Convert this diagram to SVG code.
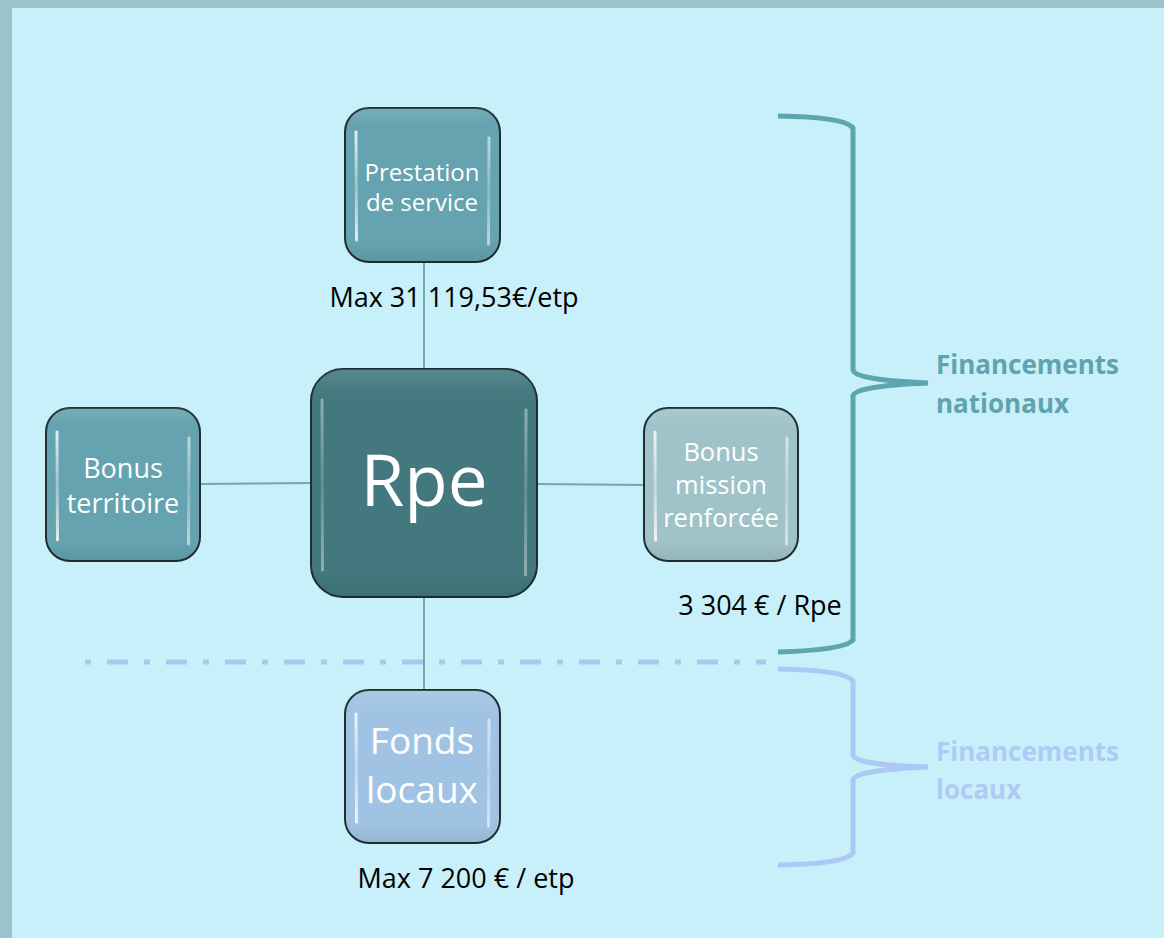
<svg xmlns="http://www.w3.org/2000/svg" width="1164" height="938" viewBox="0 0 1164 938">
<defs>
<style>
.node{stroke:#1f2e30;stroke-width:2}
.nt{font-family:"Open Sans","Liberation Sans",sans-serif;fill:#ffffff;text-anchor:middle}
.lbl{font-family:"Open Sans","Liberation Sans",sans-serif;fill:#000000;font-size:27px;text-anchor:middle}
.conn{stroke:#6fa8b1;stroke-width:2;fill:none}
.gl{stroke:url(#glg);stroke-width:3;stroke-linecap:round;fill:none}
.br{fill:none;stroke-width:5;stroke-linecap:butt}
.bt{font-family:"Open Sans","Liberation Sans",sans-serif;font-weight:bold;font-size:26px}
</style>
<linearGradient id="shade" x1="0" y1="0" x2="0" y2="1">
<stop offset="0" stop-color="#ffffff" stop-opacity="0.12"/>
<stop offset="0.12" stop-color="#ffffff" stop-opacity="0"/>
<stop offset="0.88" stop-color="#000000" stop-opacity="0"/>
<stop offset="1" stop-color="#000000" stop-opacity="0.08"/>
</linearGradient>
<linearGradient id="glg" gradientUnits="objectBoundingBox" x1="0" y1="0" x2="0" y2="1">
<stop offset="0" stop-color="#ffffff" stop-opacity="0.8"/>
<stop offset="0.5" stop-color="#ffffff" stop-opacity="0.35"/>
<stop offset="1" stop-color="#ffffff" stop-opacity="0.8"/>
</linearGradient>
</defs>
<rect x="0" y="0" width="1164" height="938" fill="#9ac3cb"/>
<rect x="12" y="8" width="1152" height="930" fill="#c8f0fa"/>

<g id="connectors">
<line class="conn" x1="424" y1="262" x2="424" y2="369"/>
<line class="conn" x1="424" y1="597" x2="424" y2="690"/>
<line class="conn" x1="200" y1="484" x2="311" y2="483"/>
<line class="conn" x1="537" y1="484" x2="644" y2="485"/>
</g>

<g id="divider">
<line x1="85" y1="662" x2="766" y2="662" stroke="#a9c8ee" stroke-width="5" stroke-dasharray="6 16 21 16"/>
</g>

<g id="node-prestation">
<rect class="node" x="345" y="108" width="155" height="154" rx="24" fill="#64a3af"/>
<rect x="345" y="108" width="155" height="154" rx="24" fill="url(#shade)"/>
<path class="gl" d="M356 132 L356.5 240"/>
<path class="gl" d="M489 138 L488.5 244" opacity="0.7"/>
<text class="nt" font-size="24" x="422" y="181">Prestation</text>
<text class="nt" font-size="24" x="422" y="211">de service</text>
</g>

<g id="node-rpe">
<rect class="node" x="311" y="369" width="226" height="228" rx="32" fill="#42787e"/>
<rect x="311" y="369" width="226" height="228" rx="32" fill="url(#shade)"/>
<path class="gl" d="M322 400 L322.5 570" opacity="0.5"/>
<path class="gl" d="M526 410 L525.5 575" opacity="0.5"/>
<text class="nt" font-size="71" x="424" y="506">Rpe</text>
</g>

<g id="node-bonus-territoire">
<rect class="node" x="46" y="408" width="154" height="153" rx="24" fill="#64a3af"/>
<rect x="46" y="408" width="154" height="153" rx="24" fill="url(#shade)"/>
<path class="gl" d="M57 432 L57.5 540"/>
<path class="gl" d="M189 438 L188.5 544" opacity="0.7"/>
<text class="nt" font-size="27" x="123" y="478">Bonus</text>
<text class="nt" font-size="27" x="123" y="513">territoire</text>
</g>

<g id="node-bonus-mission">
<rect class="node" x="644" y="408" width="154" height="153" rx="24" fill="#a0c3c9"/>
<rect x="644" y="408" width="154" height="153" rx="24" fill="url(#shade)"/>
<path class="gl" d="M655 432 L655.5 540"/>
<path class="gl" d="M787 438 L786.5 544" opacity="0.7"/>
<text class="nt" font-size="25.5" x="721" y="461">Bonus</text>
<text class="nt" font-size="25.5" x="721" y="494">mission</text>
<text class="nt" font-size="25.5" x="721" y="527">renforcée</text>
</g>

<g id="node-fonds-locaux">
<rect class="node" x="345" y="690" width="155" height="153" rx="24" fill="#a1c3e3"/>
<rect x="345" y="690" width="155" height="153" rx="24" fill="url(#shade)"/>
<path class="gl" d="M356 714 L356.5 822"/>
<path class="gl" d="M489 720 L488.5 826" opacity="0.7"/>
<text class="nt" font-size="37" x="422" y="754">Fonds</text>
<text class="nt" font-size="37" x="422" y="803">locaux</text>
</g>

<g id="labels">
<text class="lbl" x="454" y="307">Max 31 119,53€/etp</text>
<text class="lbl" x="760" y="615">3 304 € / Rpe</text>
<text class="lbl" x="466" y="888">Max 7 200 € / etp</text>
</g>

<g id="bracket-nationaux">
<path class="br" stroke="#5fa5b0" d="M778 116 Q845 117 853 128 L853 370 Q855 380 928 383 Q855 386 853 396 L853 640 Q845 650 778 652"/>
<text class="bt" fill="#5fa3af" x="936" y="374">Financements</text>
<text class="bt" fill="#5fa3af" x="936" y="413">nationaux</text>
</g>

<g id="bracket-locaux">
<path class="br" stroke="#aec8f5" d="M778 669 Q845 670 853 681 L853 755 Q855 765 928 767 Q855 770 853 780 L853 853 Q845 864 778 865"/>
<text class="bt" fill="#afcaf5" x="936" y="761">Financements</text>
<text class="bt" fill="#afcaf5" x="936" y="799">locaux</text>
</g>
</svg>
